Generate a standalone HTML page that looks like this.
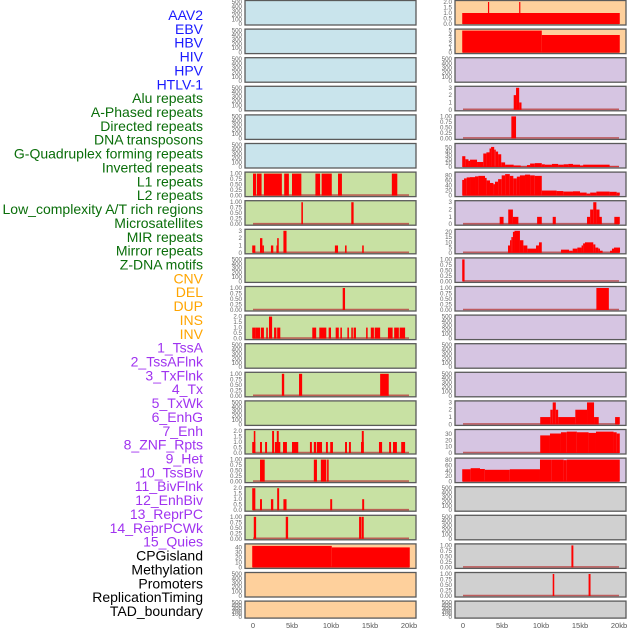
<!DOCTYPE html>
<html><head><meta charset="utf-8"><style>
html,body{margin:0;padding:0;background:#fff;}
svg{display:block;font-family:"Liberation Sans",sans-serif;}
</style></head><body>
<svg id="chart" width="630" height="630" viewBox="0 0 630 630" xmlns="http://www.w3.org/2000/svg"></svg>
<script>
// ---- data ----
const labels = ["AAV2","EBV","HBV","HIV","HPV","HTLV-1","Alu repeats","A-Phased repeats","Directed repeats","DNA transposons","G-Quadruplex forming repeats","Inverted repeats","L1 repeats","L2 repeats","Low_complexity A/T rich regions","Microsatellites","MIR repeats","Mirror repeats","Z-DNA motifs","CNV","DEL","DUP","INS","INV","1_TssA","2_TssAFlnk","3_TxFlnk","4_Tx","5_TxWk","6_EnhG","7_Enh","8_ZNF_Rpts","9_Het","10_TssBiv","11_BivFlnk","12_EnhBiv","13_ReprPC","14_ReprPCWk","15_Quies","CPGisland","Methylation","Promoters","ReplicationTiming","TAD_boundary"];
const labelGroups = ["virus","virus","virus","virus","virus","virus","repeat","repeat","repeat","repeat","repeat","repeat","repeat","repeat","repeat","repeat","repeat","repeat","repeat","sv","sv","sv","sv","sv","chrom","chrom","chrom","chrom","chrom","chrom","chrom","chrom","chrom","chrom","chrom","chrom","chrom","chrom","chrom","other","other","other","other","other"];
const xTicks = [0,5,10,15,20];
const xTickLabels = ["0","5kb","10kb","15kb","20kb"];
const tick500 = ["0","100","200","300","400","500"];
const tick1 = ["0.00","0.25","0.50","0.75","1.00"];
const tick2 = ["0.0","0.5","1.0","1.5","2.0"];
const tick3 = ["0","1","2","3"];
const tick5 = ["0","1","2","3","4","5"];
const tick20 = ["0","5","10","15","20"];
const tick30 = ["0","10","20","30"];
const tick40 = ["0","10","20","30","40"];
const tick50 = ["0","10","20","30","40","50"];
const tick80 = ["0","20","40","60","80"];
// segments: [startKb, endKb, value]
const alu = [[0,0.4,1],[0.5,1.1,1],[1.4,3.7,1],[4.0,4.6,1],[5.0,6.2,1],[8.0,8.6,1],[8.8,10.1,1],[10.9,11.4,1],[17.8,18.5,1]];
const aphased = [[6.2,6.4,1],[12.6,12.9,1]];
const directed = [[-0.1,0.3,1],[0.9,1.2,2],[1.2,1.4,1],[2.3,2.6,1],[3.0,3.1,1],[3.1,3.3,2],[3.9,4.3,3],[10.5,10.9,1],[11.8,12.0,1],[14.0,14.2,1]];
const gquad = [[11.5,11.8,1]];
const inverted = [[-0.1,0.3,1],[0.3,0.9,1],[1.0,1.4,1],[1.7,1.9,1],[2.05,2.45,2],[2.7,3.0,1],[3.1,3.5,1],[7.6,8.1,1],[8.5,9.4,1],[9.7,10.0,1],[10.6,11.0,1],[11.2,11.4,1],[12.1,12.3,1],[12.6,12.8,1],[12.9,13.2,1],[14.5,14.7,1],[15.1,15.5,1],[15.6,16.3,1],[17.3,17.9,1],[18.1,18.7,1],[18.8,19.5,1]];
const l2 = [[3.7,4.0,1],[5.9,6.3,1],[16.3,17.4,1]];
const micro = [[-0.1,0.3,1],[0.1,0.3,2],[0.9,1.15,1],[1.55,1.8,1],[2.45,2.7,2],[2.8,3.5,1],[3.05,3.3,2],[3.85,4.35,1],[5.0,5.8,1],[7.3,7.55,1],[7.8,8.1,1],[8.2,8.85,1],[9.35,9.6,1],[9.9,10.25,1],[11.8,12.05,1],[12.3,12.55,1],[13.85,14.2,1],[13.95,14.2,2],[16.15,16.55,1],[17.45,17.7,1],[17.95,18.45,1],[19.0,19.5,1]];
const mir = [[0.9,1.5,1],[7.8,8.2,1],[8.7,9.4,1],[9.5,9.7,1]];
const mirror = [[-0.1,0.3,2],[0.9,1.15,1],[2.3,2.6,1],[3.1,3.35,2],[3.9,4.3,1],[9.9,10.15,1],[14.0,14.25,1]];
const zdna = [[0.1,0.4,1],[4.2,4.5,1],[13.6,13.9,1],[13.95,14.2,1]];
const cnv = [[-0.1,10.1,43],[10.1,20.1,40]];
const ins = [[-0.1,20.1,1],[3.2,3.35,2],[7.2,7.35,2]];
const inv = [[-0.1,10.1,5],[10.1,20.1,4]];
const tssaflnk = [[6.5,6.8,2],[6.8,7.2,3],[7.2,7.5,1]];
const txflnk = [[6.2,6.8,1]];
const tx = [[-0.1,0.3,28],[0.3,0.7,20],[0.7,0.9,16],[0.9,1.8,19],[1.8,2.6,13],[2.6,3.0,35],[3.0,3.4,38],[3.4,3.6,48],[3.6,4.0,52],[4.0,4.2,45],[4.2,4.5,40],[4.5,4.9,33],[4.9,5.4,12],[5.4,6.5,6],[6.5,7.4,4],[7.4,8.2,1],[8.2,8.6,5],[8.6,9.2,9],[9.2,10.1,10],[10.1,10.5,7],[10.5,11.4,6],[11.4,12.2,8],[12.2,12.9,6],[12.9,13.5,7],[13.5,14.1,8],[14.1,15.0,6],[15.0,15.4,4],[15.4,18.8,6],[18.8,20.0,1]];
const txwk = [[-0.1,0.13,62],[0.13,0.47,68],[0.47,0.9,72],[0.9,1.54,73],[1.54,1.97,76],[1.97,2.82,78],[2.82,3.03,70],[3.03,3.46,60],[3.46,3.9,50],[3.9,4.1,45],[4.1,4.5,55],[4.5,4.96,65],[4.96,5.4,80],[5.4,6.0,85],[6.0,6.45,78],[6.45,6.9,68],[6.9,7.3,75],[7.3,7.95,80],[7.95,8.6,83],[8.6,9.2,80],[9.2,10.1,78],[10.1,12.0,20],[12.0,12.86,18],[12.86,14.1,16],[14.1,15.0,17],[15.0,15.85,12],[15.85,16.3,8],[16.3,17.1,12],[17.1,18.8,16],[18.8,19.7,15],[19.7,20.1,12]];
const enhg = [[4.7,5.2,1],[5.8,6.4,2],[6.4,7.1,1],[9.5,10.1,1],[11.5,11.9,1],[15.9,16.3,1],[16.3,16.7,2],[16.7,17.1,3],[17.1,17.5,2],[17.5,17.8,1],[19.4,20.1,1]];
const enh = [[5.77,6.03,7],[6.03,6.2,12],[6.2,6.4,15],[6.4,6.6,20],[6.6,7.3,21],[7.3,7.74,12],[7.74,8.25,7],[8.25,9.36,4],[9.36,9.74,7],[9.74,10.1,10],[12.56,13.6,3],[13.6,14.06,2],[14.06,14.66,4],[14.66,15.2,5],[15.2,15.4,7],[15.4,15.64,9],[15.64,16.7,10],[16.7,16.97,8],[16.97,17.35,5],[17.35,17.56,4],[17.56,17.9,2],[18.85,19.1,2],[19.1,19.36,4],[19.36,20.13,5]];
const znf = [[-0.1,0.2,1]];
const het = [[17.1,18.7,1]];
const reprpc = [[9.9,11.2,1],[11.2,11.5,2],[11.5,11.9,3],[11.9,12.2,2],[12.2,14.4,1],[14.4,15.9,2],[15.9,16.8,3],[16.8,17.4,1],[19.5,20.1,1]];
const reprpcwk = [[9.9,11.15,28],[11.15,12.56,31],[12.56,13.3,33],[13.3,14.6,34],[14.6,16.1,33],[16.1,17.05,32],[17.05,19.3,34],[19.3,19.7,33],[19.7,20.1,31]];
const quies = [[-0.1,0.98,46],[0.98,2.18,50],[2.18,2.8,47],[2.8,6.0,44],[6.0,9.87,46],[9.87,11.37,85],[11.37,12.9,82],[12.9,13.3,80],[13.3,20.1,82]];
const promoters = [[13.9,14.15,1]];
const repltiming = [[11.5,11.7,1],[16.1,16.35,1]];
const empty = [];

// panel order (column-first)
const panelSegs = [empty,empty,empty,empty,empty,empty,alu,aphased,directed,empty,gquad,inverted,empty,l2,empty,micro,mir,mirror,zdna,cnv,empty,empty,
  ins,inv,empty,tssaflnk,txflnk,tx,txwk,enhg,enh,znf,het,empty,empty,empty,reprpc,reprpcwk,quies,empty,empty,promoters,repltiming,empty];
const panelMax = [500,500,500,500,500,500,1,1,3,500,1,2,500,1,500,2,1,2,1,44,500,500,
  2,5,500,3,1,57,87,3,21,1,1,500,500,500,3,35,82,500,500,1,1,500];
const panelTicks = [tick500,tick500,tick500,tick500,tick500,tick500,tick1,tick1,tick3,tick500,tick1,tick2,tick500,tick1,tick500,tick2,tick1,tick2,tick1,tick40,tick500,tick500,
  tick2,tick5,tick500,tick3,tick1,tick50,tick80,tick3,tick20,tick1,tick1,tick500,tick500,tick500,tick3,tick30,tick80,tick500,tick500,tick1,tick1,tick500];

// ---- drawing ----
const NS = "http://www.w3.org/2000/svg";
const svg = document.getElementById("chart");
const groupColor = {virus:"#1a1aff",repeat:"#0a6e0a",sv:"#ffa500",chrom:"#a033f0",other:"#000000"};
const bgColor = {virus:"#c9e4ec",repeat:"#c8e1a3",sv:"#fed09c",chrom:"#d6c5e2",other:"#d0d0d0"};
const colX = [245,455];
const PW = 171;
const X0 = [253,463];
const PXKB = 7.8;
function mk(tag, attrs){const e=document.createElementNS(NS,tag);for(const k in attrs)e.setAttribute(k,attrs[k]);return e;}

labels.forEach((t,i)=>{
  const el = mk("text",{x:203,y:15+i*13.86+5,"text-anchor":"end","font-size":"14",fill:groupColor[labelGroups[i]]});
  el.textContent = t;
  
  
  svg.appendChild(el);
});

for(let p=0;p<44;p++){
  const col = p<22?0:1;
  const row = p%22;
  const top = 0.5+row*28.6;
  const h = row===21?17:24.5;
  const left = colX[col];
  const bottom = top+h;
  const ymax = panelMax[p];
  const yTop = top+1.5, yBot = bottom-1;
  const ys = v => yBot - (Math.min(v,ymax)/ymax)*(yBot-yTop);
  const xs = kb => X0[col] + kb*PXKB;
  const g = mk("g",{});
  
  
  const bg = mk("rect",{x:left,y:top,width:PW,height:h,fill:bgColor[labelGroups[p]]});
  
  
  g.appendChild(bg);
  const segs = panelSegs[p];
  if(segs.length){
    const base = mk("line",{x1:xs(0),x2:xs(20),y1:yBot-0.5,y2:yBot-0.5,stroke:"#b84040","stroke-width":1.6,"stroke-opacity":0.8});
    
    
    g.appendChild(base);
  }
  segs.forEach(s=>{
    const x1 = xs(s[0]), x2 = xs(s[1]);
    const y = ys(s[2]);
    const r = mk("rect",{x:x1,y:y,width:Math.max(1.2,x2-x1),height:yBot-y,fill:"#ff0000"});
    
    
    g.appendChild(r);
  });
  const fr = mk("rect",{x:left,y:top,width:PW,height:h,fill:"none",stroke:"#5a5a5a","stroke-width":1.3});
  
  
  g.appendChild(fr);
  const ticks = panelTicks[p];
  ticks.forEach((t,i)=>{
    const v = ymax===500 ? i*100 : parseFloat(t);
    const ty = ymax===500 ? yBot - (i/(ticks.length-1))*(yBot-yTop) : ys(v);
    const te = mk("text",{x:left-3,y:ty+2,"text-anchor":"end","font-size":"6.2",fill:"#666"});
    te.textContent = t;
    
    
    g.appendChild(te);
  });
  svg.appendChild(g);
}

[0,1].forEach(col=>{
  xTicks.forEach((kb,i)=>{
    const te = mk("text",{x:X0[col]+kb*PXKB,y:628,"text-anchor":"middle","font-size":"7.5",fill:"#555"});
    te.textContent = xTickLabels[i];
    
    
    svg.appendChild(te);
  });
});
</script>
</body></html>
